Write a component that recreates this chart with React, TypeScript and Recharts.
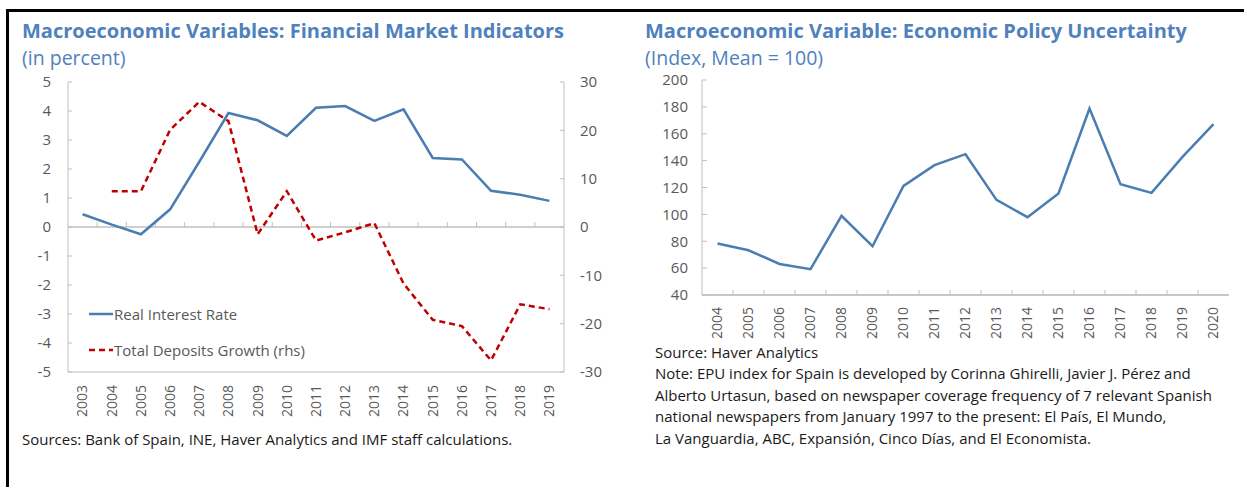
import React from "react";
import { LineChart, Line, XAxis, YAxis, ReferenceLine, Legend } from "recharts";

const finYears = ["2003", "2004", "2005", "2006", "2007", "2008", "2009", "2010", "2011", "2012", "2013", "2014", "2015", "2016", "2017", "2018", "2019"];
const realInterestRate = [0.44, 0.08, -0.25, 0.61, 2.25, 3.93, 3.68, 3.14, 4.11, 4.17, 3.66, 4.06, 2.38, 2.33, 1.25, 1.11, 0.9];
const depositsGrowth = [null, 7.4, 7.4, 20.1, 25.9, 21.9, -1.5, 7.4, -2.8, -1.1, 0.8, -11.7, -19.2, -20.5, -27.6, -16.0, -17.0];
const leftTicks = [-5, -4, -3, -2, -1, 0, 1, 2, 3, 4, 5];
const rightTicks = [-30, -20, -10, 0, 10, 20, 30];

const epuYears = ["2004", "2005", "2006", "2007", "2008", "2009", "2010", "2011", "2012", "2013", "2014", "2015", "2016", "2017", "2018", "2019", "2020"];
const epuIndex = [78.3, 73.3, 63.1, 59.2, 98.9, 76.3, 121.2, 136.6, 144.8, 110.8, 97.9, 115.5, 178.8, 122.4, 116.0, 142.8, 167.1];
const epuTicks = [40, 60, 80, 100, 120, 140, 160, 180, 200];

const finData = finYears.map((year, i) => ({ year, rate: realInterestRate[i], deposits: depositsGrowth[i] }));
const epuData = epuYears.map((year, i) => ({ year, epu: epuIndex[i] }));

const BLUE = "#4a7db2";
const TITLE = "#4f81bd";
const RED = "#c00000";
const GRID = "#bfbfbf";
const LABEL = "#595959";
const FONT = "'Open Sans', sans-serif";

// axis line with Excel-style tick marks between categories, pointing up
const betweenTicks = (count: number) => (props: any) => {
  const { x1, y1, x2, y2 } = props;
  const step = (x2 - x1) / count;
  const marks = [];
  for (let i = 1; i < count; i++) {
    const x = x1 + step * i;
    marks.push(<line key={i} x1={x} x2={x} y1={y1} y2={y1 - 5} stroke={GRID} strokeWidth={1} />);
  }
  return (
    <g>
      <line x1={x1} y1={y1} x2={x2} y2={y2} stroke={GRID} strokeWidth={1.3} />
      {marks}
    </g>
  );
};

const YearTick = (props: any) => {
  const { x, y, payload } = props;
  return (
    <text x={x} y={y} dy="0.35em" transform={`rotate(-90, ${x}, ${y})`} textAnchor="end" fill={LABEL} fontSize={14} fontFamily={FONT}>
      {payload.value}
    </text>
  );
};

const legendDash: Record<string, string | undefined> = { rate: undefined, deposits: "6 4" };

const FinLegend = (props: any) => {
  const { payload } = props;
  return (
    <div>
      {(payload || []).map((entry: any) => (
        <div key={entry.value} style={{ display: "flex", alignItems: "center", height: 36 }}>
          <svg width={25} height={10}>
            <line x1={0} x2={24} y1={5} y2={5} stroke={entry.color} strokeWidth={2.5} strokeDasharray={legendDash[entry.dataKey]} />
          </svg>
          <span style={{ fontSize: 15, color: LABEL, fontFamily: FONT, whiteSpace: "nowrap" }}>{entry.value}</span>
        </div>
      ))}
    </div>
  );
};

const tickStyle = { fill: LABEL, fontSize: 15, fontFamily: FONT };

export default function App() {
  return (
    <div style={{ position: "absolute", left: 0, top: 0, width: 1244, height: 487, background: "#fff", fontFamily: FONT, overflow: "hidden" }}>
      <div style={{ position: "absolute", left: 6, top: 9, right: 0, bottom: 0, borderTop: "3px solid #000", borderLeft: "3px solid #000" }} />

      <div style={{ position: "absolute", left: 22, top: 17, fontSize: 20, fontWeight: 700, color: TITLE, whiteSpace: "nowrap", lineHeight: "28px" }}>
        Macroeconomic Variables: Financial Market Indicators
      </div>
      <div style={{ position: "absolute", left: 22, top: 45, fontSize: 19.5, color: TITLE, whiteSpace: "nowrap", lineHeight: "26px" }}>
        (in percent)
      </div>

      <div style={{ position: "absolute", left: 0, top: 0 }}>
        <LineChart width={620} height={430} data={finData} margin={{ top: 82, right: 0, left: 0, bottom: 8 }}>
          <XAxis dataKey="year" xAxisId="bottom" scale="band" height={50} axisLine={{ stroke: GRID }} tickLine={false} tickSize={0} tickMargin={13} tick={<YearTick />} interval={0} />
          <XAxis dataKey="year" xAxisId="top" orientation="top" height={0} axisLine={{ stroke: GRID }} tickLine={false} tick={false} />
          <YAxis yAxisId="left" width={68} domain={[-5, 5]} ticks={leftTicks} axisLine={{ stroke: GRID }} tickLine={{ stroke: GRID }} tickSize={-4} tickMargin={21} tick={tickStyle} />
          <YAxis yAxisId="right" orientation="right" width={56} domain={[-30, 30]} ticks={rightTicks} axisLine={{ stroke: GRID }} tickLine={{ stroke: GRID }} tickSize={-4} tickMargin={20} tick={{ ...tickStyle, textAnchor: "start" }} />
          <ReferenceLine y={0} yAxisId="left" xAxisId="bottom" shape={betweenTicks(finYears.length)} />
          <Line xAxisId="bottom" yAxisId="left" type="linear" dataKey="rate" name="Real Interest Rate" stroke={BLUE} strokeWidth={2.5} dot={false} isAnimationActive={false} />
          <Line xAxisId="bottom" yAxisId="right" type="linear" dataKey="deposits" name="Total Deposits Growth (rhs)" stroke={RED} strokeWidth={2.5} strokeDasharray="6 4" dot={false} isAnimationActive={false} />
          <Legend layout="vertical" align="center" verticalAlign="middle" content={<FinLegend />} wrapperStyle={{ left: 89, top: 296, width: 260, height: 72 }} />
        </LineChart>
      </div>

      <div style={{ position: "absolute", left: 22, top: 429, fontSize: 15, color: "#1a1a1a", whiteSpace: "nowrap", lineHeight: "21px" }}>
        Sources: Bank of Spain, INE, Haver Analytics and IMF staff calculations.
      </div>

      <div style={{ position: "absolute", left: 645, top: 17, fontSize: 20, fontWeight: 700, color: TITLE, whiteSpace: "nowrap", lineHeight: "28px" }}>
        Macroeconomic Variable: Economic Policy Uncertainty
      </div>
      <div style={{ position: "absolute", left: 645, top: 45, fontSize: 19.5, color: TITLE, whiteSpace: "nowrap", lineHeight: "26px" }}>
        (Index, Mean = 100)
      </div>

      <div style={{ position: "absolute", left: 620, top: 0 }}>
        <LineChart width={624} height={350} data={epuData} margin={{ top: 80, right: 15, left: 0, bottom: 5 }}>
          <XAxis dataKey="year" xAxisId="bottom" scale="band" height={50} axisLine={{ stroke: GRID }} tickLine={false} tickSize={0} tickMargin={12} tick={<YearTick />} interval={0} />
          <XAxis dataKey="year" xAxisId="top" orientation="top" height={0} axisLine={{ stroke: GRID }} tickLine={false} tick={false} />
          <YAxis yAxisId="left" width={82} domain={[40, 200]} ticks={epuTicks} axisLine={{ stroke: GRID }} tickLine={{ stroke: GRID }} tickSize={-5} tickMargin={19} tick={tickStyle} />
          <YAxis yAxisId="edge" orientation="right" width={0} axisLine={{ stroke: GRID }} tickLine={false} tick={false} />
          <ReferenceLine y={40} yAxisId="left" xAxisId="bottom" shape={betweenTicks(epuYears.length)} />
          <Line xAxisId="bottom" yAxisId="left" type="linear" dataKey="epu" name="EPU" stroke={BLUE} strokeWidth={2.5} dot={false} isAnimationActive={false} />
        </LineChart>
      </div>

      <div style={{ position: "absolute", left: 655, top: 342, fontSize: 15, color: "#1a1a1a", lineHeight: "21.4px", whiteSpace: "nowrap" }}>
        <div>Source: Haver Analytics</div>
        <div>Note: EPU index for Spain is developed by Corinna Ghirelli, Javier J. Pérez and</div>
        <div>Alberto Urtasun, based on newspaper coverage frequency of 7 relevant Spanish</div>
        <div>national newspapers from January 1997 to the present: El País, El Mundo,</div>
        <div>La Vanguardia, ABC, Expansión, Cinco Días, and El Economista.</div>
      </div>
    </div>
  );
}
